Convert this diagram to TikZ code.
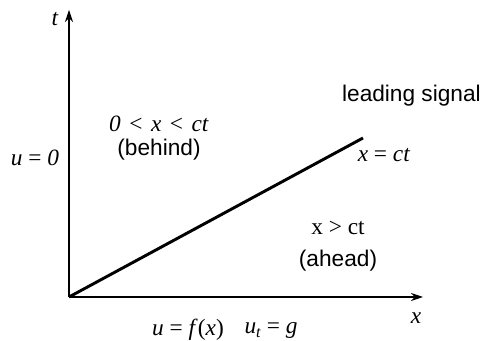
\documentclass[tikz,border=0pt]{standalone}
\usepackage{fontspec}
\setmainfont{Liberation Serif}
\setsansfont{Liberation Sans}
\usetikzlibrary{positioning,arrows.meta}
\newcommand{\vi}[1]{\textit{#1}}

\begin{document}
\begin{tikzpicture}[
  x=0.75pt,y=0.75pt,
  font=\fontsize{17}{20}\selectfont,
  >={Stealth[length=9pt,width=6pt]},
  ax/.style={->,line width=0.8pt},
  sig/.style={line width=2.2pt},
  mth/.style={inner sep=0pt,font=\fontsize{17.5}{20}\selectfont\rmfamily},
  txt/.style={inner sep=0pt,font=\fontsize{17}{20}\selectfont\sffamily}
]
\useasboundingbox (0,0) rectangle (481,341);
% ---------------- axes ----------------
\coordinate (O) at (69,44);
\coordinate (T) at (69,331);
\coordinate (X) at (423,44);
\coordinate (S) at (363,203);
\draw[ax] (O) -- (T);
\draw[ax] (O) -- (X);
\draw[sig] (O) -- (S);
\node[mth] (tl) at (55,322) {\vi{t}};
\node[mth] (xl) at (416,23) {\vi{x}};

% ---------------- regions ----------------
\node[mth] (behind) at (159,217) {\vi{0}\hspace{2pt} < \hspace{2pt}\vi{x}\hspace{2pt} < \hspace{2pt}\vi{ct}};
\node[txt,below=5pt of behind] (behindt) {(behind)};
\node[mth] (ahead) at (338,113) {x > ct};
\node[txt,below=11pt of ahead] (aheadt) {(ahead)};

% ---------------- signal ----------------
\node[txt,anchor=east] (lead) at (481,245) {leading signal};
\node[mth] (sigeq) at (384,186) {\vi{x} = \vi{ct}};

% ---------------- conditions ----------------
\node[mth] (bc) at (35,183) {\vi{u} = \vi{0}};
\node[mth] (ic1) at (188,11) {\vi{u} = \vi{f}(\vi{x})};
\node[mth] (ic2) at (271,11) {\vi{u}\raisebox{-0.4ex}{\fontsize{12}{14}\selectfont\vi{t}} = \vi{g}};
\end{tikzpicture}
\end{document}
